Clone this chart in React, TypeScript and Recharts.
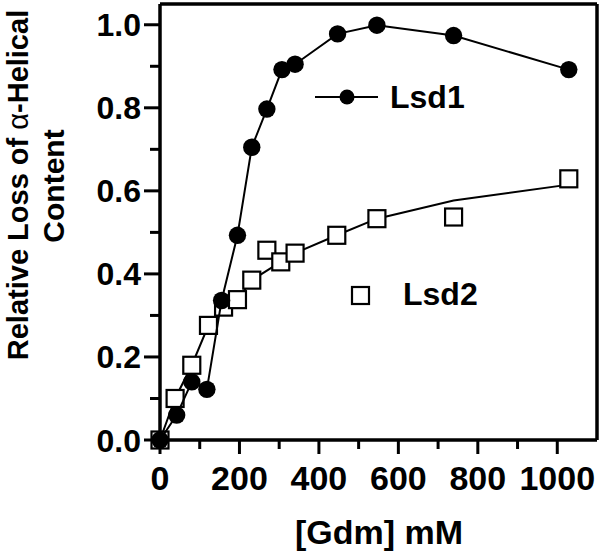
import React from "react";
import { ScatterChart, Scatter, XAxis, YAxis, ReferenceLine } from "recharts";

// [Gdm] mM
const lsd1X = [0, 42, 80, 118, 155, 195, 231, 269, 307, 340, 447, 546, 739, 1029];
const lsd1Y = [0, 0.06, 0.14, 0.122, 0.336, 0.493, 0.705, 0.797, 0.892, 0.905, 0.978, 0.999, 0.974, 0.892];

const lsd2X = [0, 38, 80, 122, 160, 195, 231, 269, 304, 340, 445, 546, 739, 1029];
const lsd2Y = [0, 0.1, 0.18, 0.276, 0.32, 0.338, 0.385, 0.457, 0.429, 0.45, 0.493, 0.533, 0.537, 0.629];

// fitted curve for Lsd2
const lsd2FitX = [0, 38, 80, 122, 160, 195, 231, 304, 340, 445, 546, 739, 1029];
const lsd2FitY = [0, 0.1, 0.18, 0.276, 0.32, 0.338, 0.385, 0.429, 0.45, 0.493, 0.533, 0.577, 0.615];

const xTicks = [0, 100, 200, 300, 400, 500, 600, 700, 800, 900, 1000];
const yTicks = [0, 0.1, 0.2, 0.3, 0.4, 0.5, 0.6, 0.7, 0.8, 0.9, 1.0];

const FONT = "'Liberation Sans', Arial, sans-serif";

const lsd1Data = lsd1X.map((x, i) => ({ x, y: lsd1Y[i] }));
const lsd2Data = lsd2X.map((x, i) => ({ x, y: lsd2Y[i] }));
const lsd2FitData = lsd2FitX.map((x, i) => ({ x, y: lsd2FitY[i] }));

const XTick = (props: any) => {
  const { x, y, payload } = props;
  const major = payload.value % 200 === 0;
  return (
    <g>
      <line x1={x} x2={x} y1={y} y2={y + (major ? 14 : 9)} stroke="#000" strokeWidth={3} />
      {major && (
        <text x={x} y={y + 50} textAnchor="middle" fontFamily={FONT} fontWeight="bold" fontSize={34} fill="#000">
          {payload.value}
        </text>
      )}
    </g>
  );
};

const YTick = (props: any) => {
  const { x, y, payload } = props;
  const major = Math.round(payload.value * 10) % 2 === 0;
  return (
    <g>
      <line x1={x - (major ? 16 : 10)} x2={x} y1={y} y2={y} stroke="#000" strokeWidth={3} />
      {major && (
        <text x={x - 19} y={y + 11.5} textAnchor="end" fontFamily={FONT} fontWeight="bold" fontSize={32} fill="#000">
          {payload.value.toFixed(1)}
        </text>
      )}
    </g>
  );
};

const Circle = (props: any) => <circle cx={props.cx} cy={props.cy} r={8.7} fill="#000" />;
const Square = (props: any) => (
  <rect x={props.cx - 8.5} y={props.cy - 8.5} width={17} height={17} fill="#fff" stroke="#000" strokeWidth={2.2} />
);
const Nothing = () => <g />;

export default function App() {
  return (
    <div style={{ position: "absolute", left: 0, top: 0, width: 602, height: 555, background: "#fff" }}>
      <ScatterChart width={602} height={555} margin={{ top: 4, right: 5, left: 0, bottom: 0 }}>
        <XAxis
          type="number"
          dataKey="x"
          domain={[0, 1100]}
          ticks={xTicks}
          interval={0}
          tickSize={0}
          tickMargin={0}
          tick={<XTick />}
          height={115}
          axisLine={{ stroke: "#000", strokeWidth: 3.5 }}
          tickLine={false}
        />
        <YAxis
          type="number"
          dataKey="y"
          domain={[0, 1.05]}
          ticks={yTicks}
          interval={0}
          tickSize={0}
          tickMargin={0}
          tick={<YTick />}
          width={160}
          axisLine={{ stroke: "#000", strokeWidth: 3.5 }}
          tickLine={false}
        />
        <ReferenceLine y={1.05} stroke="#000" strokeWidth={3.5} />
        <ReferenceLine x={1100} stroke="#000" strokeWidth={3.5} />
        <Scatter
          data={lsd2FitData}
          line={{ stroke: "#000", strokeWidth: 2 }}
          shape={<Nothing />}
          isAnimationActive={false}
        />
        <Scatter data={lsd2Data} shape={<Square />} isAnimationActive={false} />
        <Scatter
          data={lsd1Data}
          line={{ stroke: "#000", strokeWidth: 2 }}
          shape={<Circle />}
          isAnimationActive={false}
        />
      </ScatterChart>
      <svg width={602} height={555} style={{ position: "absolute", left: 0, top: 0, pointerEvents: "none" }}>
        <g fontFamily={FONT} fontWeight="bold" fill="#000">
          <text x={379} y={544} textAnchor="middle" fontSize={34}>
            [Gdm] mM
          </text>
          <text transform="translate(28,185) rotate(-90)" textAnchor="middle" fontSize={29}>
            Relative Loss of <tspan fontWeight="normal">α</tspan>-Helical
          </text>
          <text transform="translate(64,186) rotate(-90)" textAnchor="middle" fontSize={30}>
            Content
          </text>
          <line x1={315} x2={378} y1={97} y2={97} stroke="#000" strokeWidth={2} />
          <circle cx={347} cy={97} r={7.5} fill="#000" />
          <text x={390} y={108} fontSize={32}>
            Lsd1
          </text>
          <rect x={352} y={287} width={17} height={17} fill="#fff" stroke="#000" strokeWidth={2.2} />
          <text x={403} y={305} fontSize={32}>
            Lsd2
          </text>
        </g>
      </svg>
    </div>
  );
}
